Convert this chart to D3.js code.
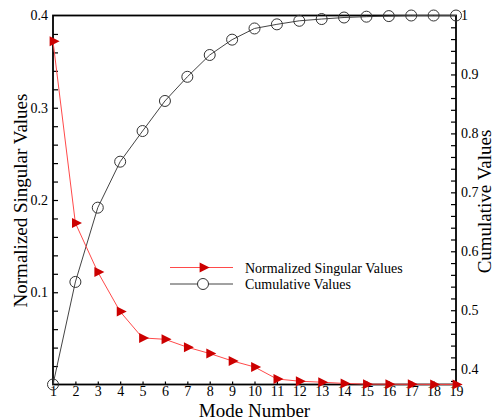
<!DOCTYPE html>
<html>
<head>
<meta charset="utf-8">
<script src="https://cdn.jsdelivr.net/npm/d3@7"></script>
<style>
  html, body { margin: 0; padding: 0; background: #fff; }
  svg { display: block; }
  text { font-family: "Liberation Serif", "Times New Roman", serif; fill: #000; }
</style>
</head>
<body>
<svg id="chart" width="495" height="419"></svg>
<script>
// ---- data ----
const modes = [1,2,3,4,5,6,7,8,9,10,11,12,13,14,15,16,17,18,19];
const normalized = [0.372,0.175,0.122,0.079,0.0505,0.049,0.0404,0.0336,0.0256,0.019,0.006,0.0036,0.0025,0.0012,0.0004,0.0003,0.0002,0.0001,0.0001];
const cumulative = [0.374,0.548,0.674,0.752,0.804,0.855,0.896,0.933,0.959,0.978,0.985,0.991,0.994,0.9966,0.998,0.999,1.0,1.0,1.0];
const leftTicks = [0.1,0.2,0.3,0.4];
const rightTicks = [0.4,0.5,0.6,0.7,0.8,0.9,1];
const seriesNames = ["Normalized Singular Values","Cumulative Values"];
const xTitle = "Mode Number";
const yLeftTitle = "Normalized Singular Values";
const yRightTitle = "Cumulative Values";

// ---- layout ----
const L = 53, R = 456, T = 15.5, B = 384.5;
const svg = d3.select("#chart");
const x = d3.scaleLinear().domain([1,19]).range([L,R]);
const yL = d3.scaleLinear().domain([0,0.4]).range([B,T]);
const yR = d3.scaleLinear().domain([0.374,1]).range([B,T]);

const redLine = "#ff4a4a", redFill = "#cc0000", grayLine = "#444";

// ---- axes ----
const axL = svg.append("g").attr("transform",`translate(${L},0)`)
  .call(d3.axisRight(yL).tickValues(d3.range(0.02,0.4,0.02)).tickSize(5).tickFormat(""));
axL.select(".domain").remove();
const axL2 = svg.append("g").attr("transform",`translate(${L},0)`)
  .call(d3.axisLeft(yL).tickValues(leftTicks).tickSize(0).tickPadding(5).tickFormat(d3.format(".1f")));
axL2.select(".domain").remove();

const axR = svg.append("g").attr("transform",`translate(${R},0)`)
  .call(d3.axisLeft(yR).tickValues(d3.range(0.38,1.0,0.02).filter(v=>v<0.999)).tickSize(5).tickFormat(""));
axR.select(".domain").remove();
const axR2 = svg.append("g").attr("transform",`translate(${R},0)`)
  .call(d3.axisRight(yR).tickValues(rightTicks).tickSize(0).tickPadding(5).tickFormat(d => d===1 ? "1" : d3.format(".1f")(d)));
axR2.select(".domain").remove();

const axB = svg.append("g").attr("transform",`translate(0,${B})`)
  .call(d3.axisTop(x).tickValues(modes).tickSize(3).tickFormat(""));
axB.select(".domain").remove();
const axB2 = svg.append("g").attr("transform",`translate(0,${B})`)
  .call(d3.axisBottom(x).tickValues(modes).tickSize(0).tickPadding(1.5).tickFormat(d3.format("d")));
axB2.select(".domain").remove();

svg.selectAll(".tick line").attr("stroke","#000").attr("stroke-width",1.2);
svg.selectAll(".tick text").style("font-family","'Liberation Serif', serif").style("font-size","14px").attr("fill","#000");

// frame
svg.append("rect").attr("x",L).attr("y",T).attr("width",R-L).attr("height",B-T)
  .attr("fill","none").attr("stroke","#000").attr("stroke-width",1.8);

// ---- series ----
const lineL = d3.line().x((d,i)=>x(modes[i])).y(d=>yL(d));
const lineR = d3.line().x((d,i)=>x(modes[i])).y(d=>yR(d));

svg.append("path").datum(cumulative).attr("d",lineR).attr("fill","none").attr("stroke",grayLine).attr("stroke-width",1);
svg.append("path").datum(normalized).attr("d",lineL).attr("fill","none").attr("stroke",redLine).attr("stroke-width",1);

const triPath = "M-3.4,-5 L6.6,0 L-3.4,5 Z";
svg.append("g").selectAll("path").data(normalized).join("path")
  .attr("transform",(d,i)=>`translate(${x(modes[i])},${yL(d)})`)
  .attr("d",triPath).attr("fill",redFill);

svg.append("g").selectAll("circle").data(cumulative).join("circle")
  .attr("cx",(d,i)=>x(modes[i])).attr("cy",d=>yR(d)).attr("r",5.5)
  .attr("fill","none").attr("stroke","#333").attr("stroke-width",1);

// ---- legend ----
const lg = svg.append("g");
const legY = [267.5, 284];
lg.append("line").attr("x1",170).attr("x2",233).attr("y1",legY[0]).attr("y2",legY[0]).attr("stroke",redLine).attr("stroke-width",1);
lg.append("path").attr("transform",`translate(203,${legY[0]})`).attr("d",triPath).attr("fill",redFill);
lg.append("line").attr("x1",170).attr("x2",233).attr("y1",legY[1]).attr("y2",legY[1]).attr("stroke",grayLine).attr("stroke-width",1);
lg.append("circle").attr("cx",203).attr("cy",legY[1]).attr("r",5.5).attr("fill","#fff").attr("stroke","#333");
lg.selectAll("text").data(seriesNames).join("text")
  .attr("x",245).attr("y",(d,i)=>legY[i]+5)
  .style("font-size","14px").text(d=>d);

// ---- titles ----
svg.append("text").attr("x",(L+R)/2).attr("y",416.5).attr("text-anchor","middle")
  .style("font-size","19px").text(xTitle);
svg.append("text").attr("transform","translate(27,200.5) rotate(-90)").attr("text-anchor","middle")
  .style("font-size","19px").text(yLeftTitle);
svg.append("text").attr("transform","translate(491,201.5) rotate(-90)").attr("text-anchor","middle")
  .style("font-size","19px").text(yRightTitle);
</script>
</body>
</html>
